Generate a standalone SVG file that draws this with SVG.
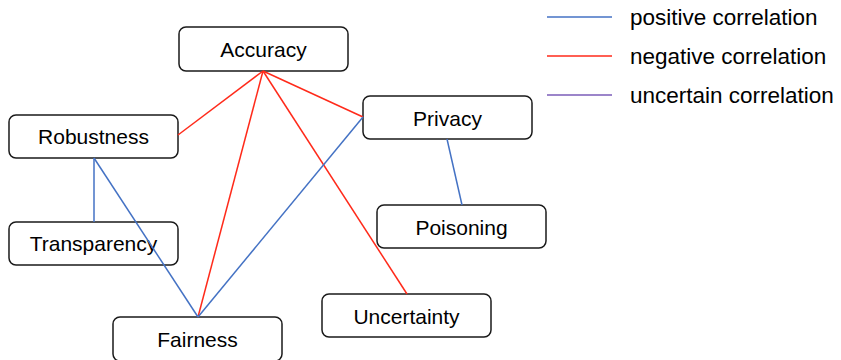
<svg xmlns="http://www.w3.org/2000/svg" width="841" height="360" viewBox="0 0 841 360">
<style>
.box{fill:#fff;stroke:#1a1a1a;stroke-width:1.5}
.lbl{font-family:"Liberation Sans",Arial,sans-serif;font-size:21px;fill:#000;text-anchor:middle}
.leg{font-family:"Liberation Sans",Arial,sans-serif;font-size:22.5px;fill:#000}
.pos{stroke:#4472C4;stroke-width:1.5;fill:none}
.neg{stroke:#FF2A1A;stroke-width:1.5;fill:none}
.unc{stroke:#7B5CB8;stroke-width:1.5;fill:none}
</style>
<rect width="841" height="360" fill="#fff"/>
<g id="accuracy"><rect class="box" x="179" y="27" width="169" height="44" rx="7"/><text class="lbl" x="263.5" y="56.5">Accuracy</text></g>
<g id="robustness"><rect class="box" x="9" y="115" width="169" height="43" rx="7"/><text class="lbl" x="93.5" y="143.5">Robustness</text></g>
<g id="transparency"><rect class="box" x="9" y="222" width="169" height="43" rx="7"/><text class="lbl" x="93.5" y="250.5">Transparency</text></g>
<g id="privacy"><rect class="box" x="363" y="96" width="169" height="43" rx="7"/><text class="lbl" x="447.5" y="125.5">Privacy</text></g>
<g id="poisoning"><rect class="box" x="377" y="205" width="169" height="43" rx="7"/><text class="lbl" x="461.5" y="234.5">Poisoning</text></g>
<g id="uncertainty"><rect class="box" x="322" y="294" width="169" height="43" rx="7"/><text class="lbl" x="406.5" y="323.5">Uncertainty</text></g>
<g id="fairness"><rect class="box" x="113" y="317" width="169" height="44" rx="7"/><text class="lbl" x="197.5" y="346.5">Fairness</text></g>
<g id="connectors">
<line class="neg" x1="263" y1="71" x2="178" y2="135"/>
<line class="neg" x1="263" y1="71" x2="363" y2="117"/>
<line class="neg" x1="263" y1="71" x2="198" y2="317"/>
<line class="neg" x1="263" y1="71" x2="407" y2="294"/>
<line class="pos" x1="94" y1="158" x2="94" y2="222"/>
<line class="pos" x1="94" y1="158" x2="198" y2="317"/>
<line class="pos" x1="363" y1="117" x2="198" y2="317"/>
<line class="pos" x1="447" y1="139" x2="462" y2="205"/>
</g>
<g id="legend">
<line class="pos" x1="547" y1="17" x2="612" y2="17"/>
<text class="leg" x="630" y="25">positive correlation</text>
<line class="neg" x1="547" y1="56" x2="612" y2="56"/>
<text class="leg" x="630" y="64">negative correlation</text>
<line class="unc" x1="547" y1="95" x2="612" y2="95"/>
<text class="leg" x="630" y="103">uncertain correlation</text>
</g>
</svg>
